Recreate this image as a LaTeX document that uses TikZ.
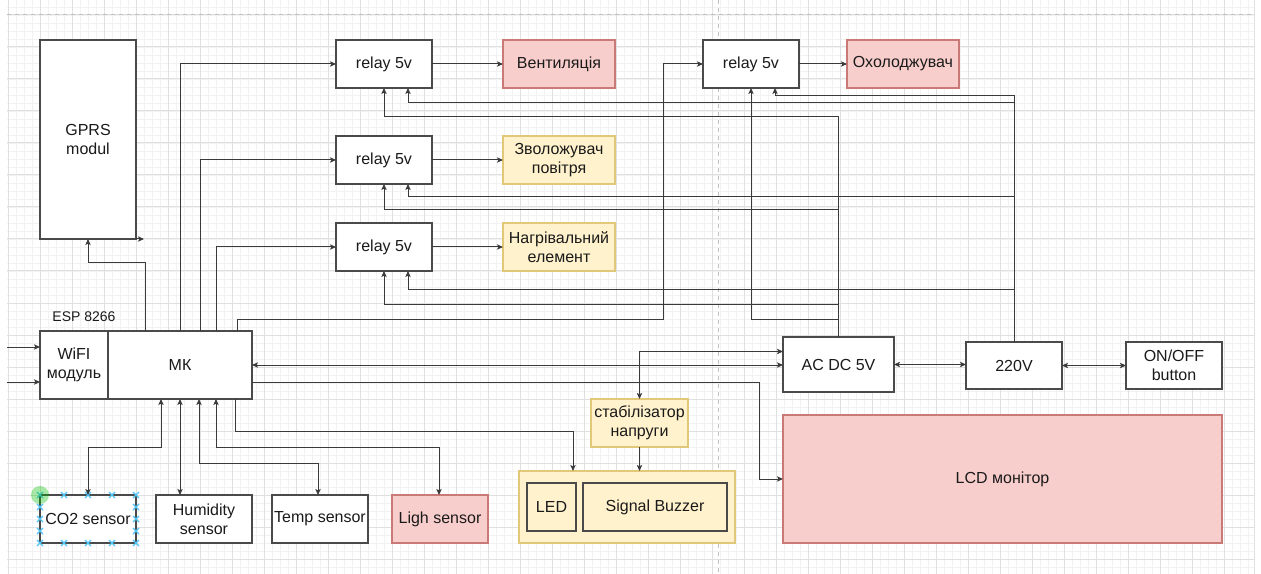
\documentclass[tikz,border=0pt]{standalone}
\usepackage{fontspec}
\setmainfont{Liberation Sans}
\usetikzlibrary{arrows.meta,calc}
\definecolor{pinkf}{HTML}{F8CECC}
\definecolor{pinkd}{HTML}{C97A77}
\definecolor{yelf}{HTML}{FFF2CC}
\definecolor{yeld}{HTML}{E0C878}
\definecolor{lnc}{HTML}{3A3A3A}
\definecolor{boxc}{HTML}{4A4A4A}
\definecolor{txc}{HTML}{1A1A1A}
\definecolor{gminor}{HTML}{F2F2F2}
\definecolor{gmajor}{HTML}{E0E0E0}
\definecolor{selc}{HTML}{4FC3F7}
\newcommand\dfont{\fontsize{12}{14.5}\selectfont}
\newcommand\bx[7]{\node[#6, minimum width={(#4-#2)*0.75pt}, minimum height={(#5-#3)*0.75pt}] (#1) at ({(#2+#4)/2},{(#3+#5)/2}) {#7};}
\tikzset{
  box/.style={draw=boxc, line width=0.8pt, fill=white, inner sep=0pt, outer sep=0pt, align=center, font=\dfont, text=txc},
  pinkbox/.style={box, fill=pinkf, draw=pinkd},
  yelbox/.style={box, fill=yelf, draw=yeld},
  yinner/.style={box, fill=yelf, draw=boxc},
  tip/.tip={Stealth[length=4.5pt,width=4pt,inset=1pt]},
  arr/.style={draw=lnc, line width=0.75pt, -tip},
  arrb/.style={draw=lnc, line width=0.75pt, tip-tip},
  gridminor/.style={draw=gminor, line width=0.6pt},
  gridmajor/.style={draw=gmajor, line width=0.75pt},
  pagebreak/.style={draw=black!25, line width=0.75pt, dash pattern=on 3pt off 3pt},
  selmark/.style={draw=selc, line width=1pt},
}
\begin{document}
\begin{tikzpicture}[x=0.75pt,y=-0.75pt]
\useasboundingbox (0,0) rectangle (1261,574);
\fill[white] (0,0) rectangle (1261,574);
% grid
\foreach \x in {8,16,...,1248} \draw[gridminor] (\x,0) -- (\x,574);
\foreach \y in {7,15,...,567} \draw[gridminor] (7,\y) -- (1254,\y);
\foreach \x in {8,40,...,1240} \draw[gridmajor] (\x,0) -- (\x,574);
\foreach \y in {15,47,...,559} \draw[gridmajor] (7,\y) -- (1254,\y);
\draw[gridmajor] (1254,0) -- (1254,574);
\draw[pagebreak] (7,15) -- (1254,15);
\draw[pagebreak] (718,0) -- (718,574);

% nodes
\bx{gprs}{40}{40}{136}{239}{box}{GPRS\\modul}
\bx{r1}{336}{40}{432}{88}{box}{relay 5v}
\bx{r2}{336}{136}{432}{184}{box}{relay 5v}
\bx{r3}{336}{223}{432}{271}{box}{relay 5v}
\bx{r4}{703}{40}{799}{88}{box}{relay 5v}
\bx{o1}{503}{40}{615}{88}{pinkbox}{Вентиляція}
\bx{o2}{503}{136}{615}{184}{yelbox}{Зволожувач\\повітря}
\bx{o3}{503}{223}{615}{271}{yelbox}{Нагрівальний\\елемент}
\bx{o4}{847}{40}{959}{88}{pinkbox}{Охолоджувач}
\bx{wifi}{40}{331}{108}{399}{box}{WiFI\\модуль}
\bx{mk}{108}{331}{252}{399}{box}{МК}
\node[font=\fontsize{10.5}{12}\selectfont, text=txc] (esp) at (84,317) {ESP 8266};
\bx{co2}{40}{495}{136}{543}{box}{CO2 sensor}
\bx{hum}{156}{495}{252}{543}{box}{Humidity\\sensor}
\bx{temp}{272}{495}{368}{543}{box}{Temp sensor}
\bx{light}{392}{495}{488}{543}{pinkbox}{Ligh sensor}
\bx{grp}{519}{471}{735}{543}{yelbox}{}
\bx{led}{527}{483}{576}{531}{yinner}{LED}
\bx{buz}{583}{483}{727}{531}{yinner}{Signal Buzzer}
\bx{stab}{591}{399}{688}{447}{yelbox}{стабілізатор\\напруги}
\bx{acdc}{783}{337}{894}{392}{box}{AC DC 5V}
\bx{pw}{966}{342}{1062}{389}{box}{220V}
\bx{btn}{1126}{342}{1222}{389}{box}{ON/OFF\\button}
\bx{lcd}{783}{415}{1222}{543}{pinkbox}{LCD монітор}

% selection handles on CO2 sensor
\foreach \p in {(40,495),(64,495),(88,495),(112,495),(136,495),
                (40,543),(64,543),(88,543),(112,543),(136,543),
                (40,507),(40,519),(40,531),(136,507),(136,519),(136,531)}
  {\draw[selmark] \p ++(-3,-3) -- ++(6,6) \p ++(-3,3) -- ++(6,-6);}
\fill[green!75!black, fill opacity=0.35] (40,495) circle (9);

% relays to loads
\draw[arr] (r1.east) -- (o1.west);
\draw[arr] (r2.east) -- (o2.west);
\draw[arr] (r3.east) -- (o3.west);
\draw[arr] (r4.east) -- (o4.west);

% MK to relays
\draw[arr] (mk.north) |- (r1.west);
\draw[arr] ($(mk.north)+(20,0)$) |- (r2.west);
\draw[arr] ($(mk.north)+(36,0)$) |- (r3.west);
\draw[arr] ($(mk.north)+(57,0)$) |- (663,319) |- (r4.west);

% MK to GPRS
\draw[arr] ($(mk.north)+(-35,0)$) |- ($(gprs.south)+(0,24)$) -- (gprs.south);
\draw[arr] (gprs.south east) -- ++(8,0);

% inputs to WiFi
\coordinate (in1) at (7,347);
\coordinate (in2) at (7,382);
\draw[arr] (in1) -- (in1 -| wifi.west);
\draw[arr] (in2) -- (in2 -| wifi.west);

% AC DC 5V power to relays
\draw[arr] (acdc.north) -- (acdc.north |- 0,117) -| (r1.south);
\draw[arr] (acdc.north) -- (acdc.north |- 0,210) -| (r2.south);
\draw[arr] (acdc.north) -- (acdc.north |- 0,304) -| (r3.south);
\draw[arr] (acdc.north) -- (acdc.north |- 0,319) -| (r4.south);

% 220V to relays
\draw[arr] (pw.north) -- (pw.north |- 0,103) -| ($(r1.south)+(24,0)$);
\draw[arr] (pw.north) -- (pw.north |- 0,197) -| ($(r2.south)+(24,0)$);
\draw[arr] (pw.north) -- (pw.north |- 0,289) -| ($(r3.south)+(24,0)$);
\draw[arr] (pw.north) -- (pw.north |- 0,96) -| ($(r4.south)+(24,0)$);

% MK right side
\draw[arrb] (mk.east) -- (mk.east -| acdc.west);
\draw[arr] ($(mk.east)+(0,17)$) -| ($(lcd.west)+(-24,0)$) -- (lcd.west);
\draw[arrb] ($(acdc.west)+(0,-13)$) -| (stab.north);
\draw[arr] (stab.south) -- (stab.south |- grp.north);
\draw[arr] ($(mk.south)+(55,0)$) |- ($(grp.north west)+(54,-40)$) -- ($(grp.north west)+(54,0)$);

% power chain
\draw[arrb] (acdc.east) -- (acdc.east -| pw.west);
\draw[arrb] (pw.east) -- (pw.east -| btn.west);

% sensors
\draw[arrb] ($(mk.south)+(-19,0)$) |- ($(co2.north)+(0,-48)$) -- (co2.north);
\draw[arrb] (mk.south) -- (mk.south |- hum.north);
\draw[arrb] ($(mk.south)+(19,0)$) |- ($(temp.north)+(-2,-32)$) -- ($(temp.north)+(-2,0)$);
\draw[arrb] ($(mk.south)+(36,0)$) |- ($(light.north)+(-1,-48)$) -- ($(light.north)+(-1,0)$);
\end{tikzpicture}
\end{document}
